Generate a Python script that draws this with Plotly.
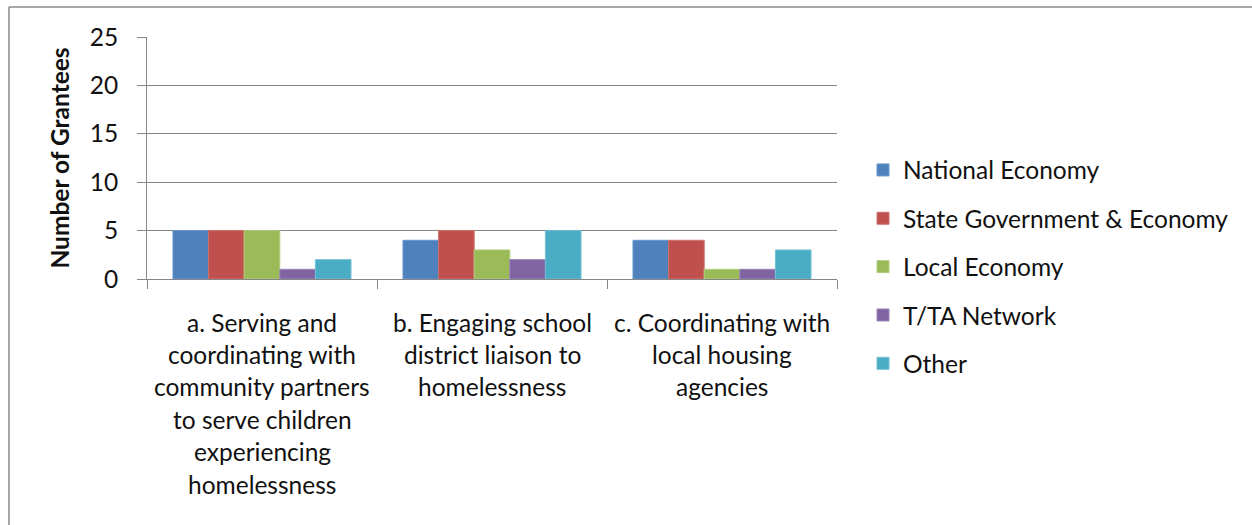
import plotly.graph_objects as go

categories = [
    "a. Serving and<br>coordinating with<br>community partners<br>to serve children<br>experiencing<br>homelessness",
    "b. Engaging school<br>district liaison to<br>homelessness",
    "c. Coordinating with<br>local housing<br>agencies",
]
cat_keys = ["a", "b", "c"]
series_names = ["National Economy", "State Government & Economy", "Local Economy", "T/TA Network", "Other"]
national = [5, 4, 4]
state = [5, 5, 4]
local = [5, 3, 1]
ttan = [1, 2, 1]
other = [2, 5, 3]
series_values = [national, state, local, ttan, other]
colors = ["#4F81BD", "#C0504D", "#9BBB59", "#8064A2", "#4BACC6"]
edge_colors = ["#6A96CC", "#D0716E", "#B0CC7C", "#9A84B8", "#70C0D6"]
y_ticks = [0, 5, 10, 15, 20, 25]

FONT = "Lato"
FS = 24.5
TXT = "#111111"
W, H = 1252, 525
L, R, T, B = 147, 415, 37, 246

fig = go.Figure()
for i, (name, vals) in enumerate(zip(series_names, series_values)):
    fig.add_trace(go.Bar(
        x=cat_keys, y=vals, name=name,
        marker=dict(color=colors[i], line=dict(color=edge_colors[i], width=1)),
        legendgroup=f"g{i}",
    ))

# category labels, one annotation per line for Excel-like line spacing
line_h = 32.4
for key, label in zip(cat_keys, categories):
    for j, line in enumerate(label.split("<br>")):
        fig.add_annotation(
            x=key, xref="x", y=0, yref="paper", text=line, showarrow=False,
            xanchor="center", yanchor="middle", yshift=-(43 + j * line_h),
            font=dict(family=FONT, size=FS, color=TXT),
        )

plot_w = W - L - R
plot_h = H - T - B
x_left = -(L - 9) / plot_w
y_top = 1 + (T - 7) / plot_h
fig.add_shape(type="line", xref="paper", yref="paper", x0=x_left, x1=2, y0=y_top, y1=y_top,
              line=dict(color="#8a8a8a", width=1.5))
fig.add_shape(type="line", xref="paper", yref="paper", x0=x_left, x1=x_left, y0=-2, y1=y_top,
              line=dict(color="#8a8a8a", width=1.5))

fig.update_layout(
    width=W, height=H,
    margin=dict(l=L, r=R, t=T, b=B),
    paper_bgcolor="white", plot_bgcolor="white",
    barmode="group", bargap=0.226, bargroupgap=0,
    font=dict(family=FONT, size=FS, color=TXT),
    showlegend=True,
    legend=dict(
        x=1.0377, y=(279 - 267) / plot_h, xanchor="left", yanchor="middle",
        font=dict(family=FONT, size=FS, color=TXT),
        traceorder="grouped", tracegroupgap=13.5,
        itemwidth=30, bgcolor="rgba(0,0,0,0)", maxheight=520,
    ),
    xaxis=dict(
        type="category", showticklabels=False,
        ticks="outside", tickson="boundaries", ticklen=9, tickcolor="#868686",
        showline=True, linecolor="#868686", linewidth=1, showgrid=False,
    ),
    yaxis=dict(
        range=[0, 25], tickvals=y_ticks, ticks="outside", ticklen=9, tickcolor="#868686",
        ticklabelstandoff=14,
        showline=True, linecolor="#868686", linewidth=1,
        showgrid=True, gridcolor="#868686", gridwidth=1, zeroline=False,
        tickfont=dict(family=FONT, size=FS, color=TXT),
        title=dict(text="<b>Number of Grantees</b>", standoff=13,
                   font=dict(family=FONT, size=FS, color=TXT)),
    ),
)

fig.write_html("out.html", config={"displayModeBar": False},
               post_script="document.body.style.margin='0';")
